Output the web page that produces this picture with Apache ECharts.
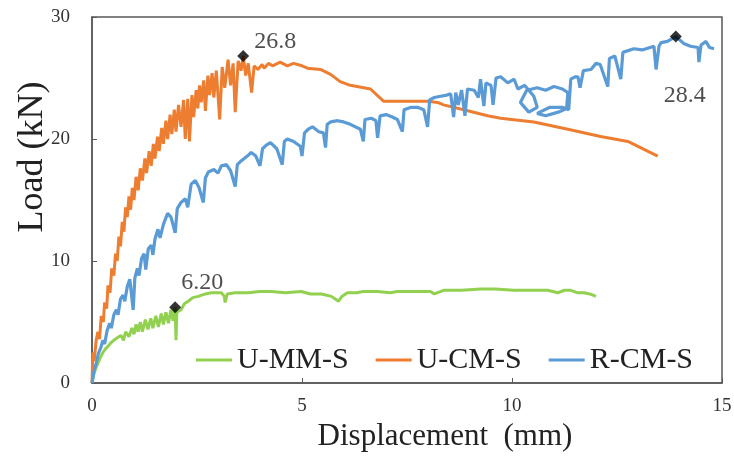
<!DOCTYPE html>
<html lang="en">
<head>
  <meta charset="UTF-8">
  <title>Load - Displacement</title>
  <style>
    html, body { margin: 0; padding: 0; background: #fff; }
    #main { width: 734px; height: 456px; }
  </style>
</head>
<body>
  <div id="main"></div>

  <script src="https://cdn.jsdelivr.net/npm/echarts@6/dist/echarts.min.js"></script>

  <script>
    // U-MM-S  (displacement mm, load kN)
    var ummX = [0, 0.05, 0.1, 0.14, 0.2, 0.26, 0.32, 0.38, 0.45, 0.52, 0.6, 0.69, 0.75, 0.8, 0.88, 0.95, 1.0, 1.05, 1.1, 1.15,
      1.2, 1.27, 1.33, 1.4, 1.45, 1.52, 1.58, 1.65, 1.7, 1.76, 1.82, 1.88, 1.93, 1.98, 2.0, 2.02, 2.12, 2.2, 2.29, 2.4,
      2.53, 2.7, 2.84, 3.08, 3.15, 3.17, 3.22, 3.4, 3.72, 4.0, 4.27, 4.6, 4.98, 5.2, 5.46, 5.7, 5.87, 5.95, 6.08, 6.3,
      6.46, 6.8, 7.1, 7.27, 7.6, 8.06, 8.15, 8.37, 8.8, 9.25, 9.6, 10.04, 10.5, 10.85, 11.09, 11.25, 11.4, 11.55, 11.71, 11.85, 12.0]
    var ummY = [0, 0.8, 1.3, 1.6, 2.1, 2.5, 2.8, 3.0, 3.3, 3.5, 3.7, 3.9, 3.5, 4.2, 3.8, 4.5, 4.0, 4.8, 4.2, 5.0,
      4.2, 5.2, 4.4, 5.3, 4.5, 5.5, 4.6, 5.7, 4.8, 5.8, 4.9, 6.0, 5.1, 6.2, 3.5, 5.8, 6.0, 6.5, 6.7, 7.0,
      7.1, 7.3, 7.4, 7.4, 7.1, 6.6, 7.3, 7.4, 7.4, 7.5, 7.5, 7.4, 7.5, 7.3, 7.3, 7.1, 6.7, 7.1, 7.4, 7.4,
      7.5, 7.5, 7.4, 7.5, 7.5, 7.5, 7.3, 7.6, 7.6, 7.7, 7.7, 7.6, 7.6, 7.6, 7.4, 7.6, 7.6, 7.4, 7.4, 7.3, 7.1]

    // U-CM-S
    var ucmX = [0, 0.02, 0.05, 0.1, 0.14, 0.18, 0.22, 0.27, 0.3, 0.35, 0.38, 0.43, 0.47, 0.52, 0.56, 0.6, 0.64, 0.68, 0.72, 0.76,
      0.8, 0.84, 0.88, 0.92, 0.96, 1.0, 1.05, 1.1, 1.15, 1.2, 1.26, 1.3, 1.36, 1.41, 1.46, 1.5, 1.56, 1.6, 1.66, 1.7,
      1.76, 1.8, 1.86, 1.9, 1.96, 2.0, 2.06, 2.12, 2.18, 2.22, 2.28, 2.32, 2.38, 2.42, 2.48, 2.52, 2.56, 2.6, 2.66, 2.7,
      2.76, 2.8, 2.86, 2.9, 2.96, 3.04, 3.1, 3.16, 3.24, 3.3, 3.36, 3.41, 3.48, 3.55, 3.6, 3.66, 3.72, 3.8, 3.86, 3.95,
      4.05, 4.1, 4.2, 4.3, 4.48, 4.65, 4.8, 5.0, 5.13, 5.44, 5.68, 5.91, 6.15, 6.63, 6.94, 7.99, 8.23, 8.37, 8.85, 9.42,
      9.73, 10.52, 11.33, 12.11, 12.76, 13.0, 13.47]
    var ucmY = [0, 2.5, 1.8, 3.5, 4.2, 3.6, 5.5, 5.0, 6.6, 6.1, 8.0, 7.4, 9.4, 8.8, 10.6, 10.0, 12.0, 11.2, 13.2, 12.4,
      14.4, 13.6, 15.3, 14.2, 16.0, 15.0, 16.9, 15.8, 17.6, 16.6, 18.4, 17.2, 19.0, 17.8, 19.6, 18.4, 20.2, 19.0, 20.9, 19.6,
      21.5, 20.0, 22.0, 20.4, 22.4, 20.6, 22.8, 21.0, 23.2, 20.0, 23.3, 19.8, 23.6, 21.8, 24.0, 22.5, 24.4, 23.0, 24.8, 22.3,
      25.2, 23.6, 25.4, 23.4, 25.6, 21.6, 25.9, 24.2, 26.5, 24.4, 26.2, 22.2, 26.4, 25.6, 26.8, 25.2, 26.2, 23.8, 26.0, 25.7,
      26.1, 25.8, 26.2, 26.0, 26.3, 26.0, 26.2, 26.0, 25.8, 25.7, 25.3, 24.7, 24.4, 24.1, 23.1, 23.1, 23.0, 22.8, 22.4, 21.9,
      21.7, 21.4, 20.8, 20.2, 19.8, 19.4, 18.6]

    // R-CM-S
    var rcmX = [0, 0.05, 0.1, 0.15, 0.21, 0.26, 0.3, 0.36, 0.42, 0.46, 0.52, 0.58, 0.62, 0.68, 0.74, 0.78, 0.84, 0.9, 0.98, 1.02,
      1.08, 1.12, 1.18, 1.24, 1.28, 1.34, 1.41, 1.45, 1.5, 1.57, 1.62, 1.7, 1.8, 1.88, 1.98, 2.03, 2.12, 2.22, 2.28, 2.36,
      2.46, 2.55, 2.65, 2.7, 2.77, 2.9, 3.0, 3.08, 3.2, 3.3, 3.41, 3.46, 3.55, 3.7, 3.79, 3.9, 4.0, 4.06, 4.15, 4.25,
      4.4, 4.53, 4.58, 4.65, 4.8, 4.96, 5.0, 5.06, 5.15, 5.25, 5.4, 5.51, 5.56, 5.6, 5.68, 5.85, 5.99, 6.15, 6.39, 6.46,
      6.5, 6.65, 6.76, 6.8, 6.86, 7.0, 7.15, 7.27, 7.39, 7.43, 7.6, 7.75, 7.9, 7.99, 8.04, 8.15, 8.3, 8.45, 8.54, 8.61,
      8.66, 8.72, 8.8, 8.88, 8.94, 9.1, 9.2, 9.25, 9.33, 9.38, 9.5, 9.55, 9.62, 9.73, 9.9, 10.05, 10.14, 10.3, 10.52, 10.6,
      10.4, 10.2, 10.35, 10.6, 10.8, 11.0, 11.2, 11.33, 11.3, 11.1, 10.8, 10.6, 10.9, 11.2, 11.35, 11.4, 11.5, 11.57, 11.62, 11.7,
      11.88, 12.0, 12.1, 12.28, 12.32, 12.45, 12.59, 12.64, 12.9, 13.1, 13.38, 13.43, 13.5, 13.55, 13.7, 13.9, 14.1, 14.25, 14.43, 14.45,
      14.5, 14.62, 14.7, 14.81]
    var rcmY = [0, 1.0, 1.6, 2.4, 2.9, 3.5, 3.2, 4.3, 4.9, 4.5, 5.6, 6.0, 5.6, 6.9, 7.2, 6.7, 7.9, 8.5, 6.0, 8.6,
      9.4, 8.8, 10.2, 10.6, 9.3, 11.0, 11.3, 10.5, 11.8, 12.6, 11.9, 13.0, 13.9, 13.6, 12.3, 14.3, 14.8, 15.1, 14.4, 16.3,
      16.6, 16.0, 14.8, 16.8, 17.3, 17.5, 17.2, 17.8, 17.9, 17.4, 16.1, 17.9, 18.2, 18.6, 18.9, 18.6, 17.8, 19.2, 19.5, 19.7,
      19.2, 17.9, 19.8, 20.0, 19.8, 19.4, 18.6, 20.5, 20.8, 21.0, 20.6, 20.5, 19.3, 21.2, 21.4, 21.5, 21.4, 21.2, 20.8, 19.8,
      21.6, 21.7, 21.5, 20.1, 21.9, 22.0, 21.8, 21.6, 20.6, 22.4, 22.6, 22.6, 22.4, 21.0, 23.2, 23.4, 23.5, 23.6, 23.7, 21.8,
      23.8, 22.8, 24.0, 21.9, 24.1, 24.0, 23.4, 24.9, 22.7, 24.6, 24.4, 22.8, 25.0, 25.1, 24.6, 24.9, 24.1, 24.4, 23.5, 22.6,
      22.2, 23.0, 24.0, 24.2, 24.0, 24.3, 24.1, 23.8, 22.5, 22.2, 21.9, 22.1, 22.6, 22.6, 22.4, 24.9, 25.1, 25.1, 24.2, 25.6,
      25.7, 26.2, 26.1, 24.3, 26.6, 26.8, 24.9, 27.1, 27.4, 27.3, 27.6, 25.7, 27.6, 27.9, 28.0, 28.4, 27.8, 27.6, 27.5, 26.3,
      27.7, 28.0, 27.5, 27.4]

    // peak markers
    var peakX = [1.98, 3.6, 13.9]
    var peakY = [6.2, 26.8, 28.4]
    var peakText = ['6.20', '26.8', '28.4']

    var xTicks = [0, 5, 10, 15]
    var yTicks = [0, 10, 20, 30]

    function pairs(xs, ys) {
      var out = []
      for (var i = 0; i < xs.length; i++) out.push([xs[i], ys[i]])
      return out
    }

    var labelOffsets = [[27, -25], [0, -14], [9, 59]]
    var labelPos = ['inside', 'right', 'inside']
    var peakData = peakX.map(function (x, i) {
      return {
        value: [x, peakY[i]],
        label: { show: true, formatter: peakText[i], position: labelPos[i], offset: labelOffsets[i] }
      }
    })

    var serif = '"Liberation Serif", "Times New Roman", serif'
    var myChart = echarts.init(document.getElementById('main'))

    var option = {
      animation: false,
      grid: {
        left: 92, right: 12, top: 17, bottom: 73, outerBoundsMode: 'none',
        show: true, borderColor: '#595959', borderWidth: 1.5
      },
      // y axis title drawn as rotated text so it can sit above the middle like the original
      graphic: [{
        type: 'text',
        x: 33,
        y: 157,
        rotation: Math.PI / 2,
        style: {
          text: 'Load (kN)',
          font: '36px ' + serif,
          fill: '#222',
          align: 'center',
          verticalAlign: 'middle'
        }
      }],
      legend: {
        left: 191,
        top: 340,
        icon: 'rect',
        itemWidth: 36,
        itemHeight: 3,
        itemGap: 27,
        textStyle: { fontFamily: serif, fontSize: 30, color: '#222' },
        data: ['U-MM-S', 'U-CM-S', 'R-CM-S']
      },
      xAxis: {
        type: 'value',
        min: xTicks[0],
        max: xTicks[xTicks.length - 1],
        interval: 5,
        name: 'Displacement  (mm)',
        nameLocation: 'middle',
        nameGap: 34,
        nameTextStyle: { fontFamily: serif, fontSize: 31, color: '#222', padding: [0, 0, 0, 76] },
        axisLine: { lineStyle: { color: '#595959', width: 1.5 } },
        axisTick: { inside: true, length: 5, lineStyle: { color: '#595959' } },
        axisLabel: { fontFamily: serif, fontSize: 19, color: '#333', margin: 14 },
        splitLine: { show: false }
      },
      yAxis: {
        type: 'value',
        min: yTicks[0],
        max: yTicks[yTicks.length - 1],
        interval: 10,
        axisLine: { show: true, lineStyle: { color: '#595959', width: 1.5 } },
        axisTick: { show: true, inside: true, length: 5, lineStyle: { color: '#595959' } },
        axisLabel: { fontFamily: serif, fontSize: 19, color: '#333', margin: 22 },
        splitLine: { show: false }
      },
      series: [
        {
          name: 'U-MM-S', type: 'line', data: pairs(ummX, ummY), showSymbol: false,
          lineStyle: { color: '#92D050', width: 3 }, itemStyle: { color: '#92D050' }
        },
        {
          name: 'U-CM-S', type: 'line', data: pairs(ucmX, ucmY), showSymbol: false,
          lineStyle: { color: '#ED7D31', width: 3 }, itemStyle: { color: '#ED7D31' }
        },
        {
          name: 'R-CM-S', type: 'line', data: pairs(rcmX, rcmY), showSymbol: false,
          lineStyle: { color: '#5B9BD5', width: 3.2 }, itemStyle: { color: '#5B9BD5' }
        },
        {
          name: 'peak', type: 'scatter', data: peakData, symbol: 'diamond', symbolSize: 12,
          itemStyle: { color: '#000' }, z: 5,
          label: { fontFamily: serif, fontSize: 24, color: '#222' }
        }
      ]
    }

    myChart.setOption(option)

    window.onresize = function () {
      myChart.resize()
    }
  </script>
</body>
</html>
